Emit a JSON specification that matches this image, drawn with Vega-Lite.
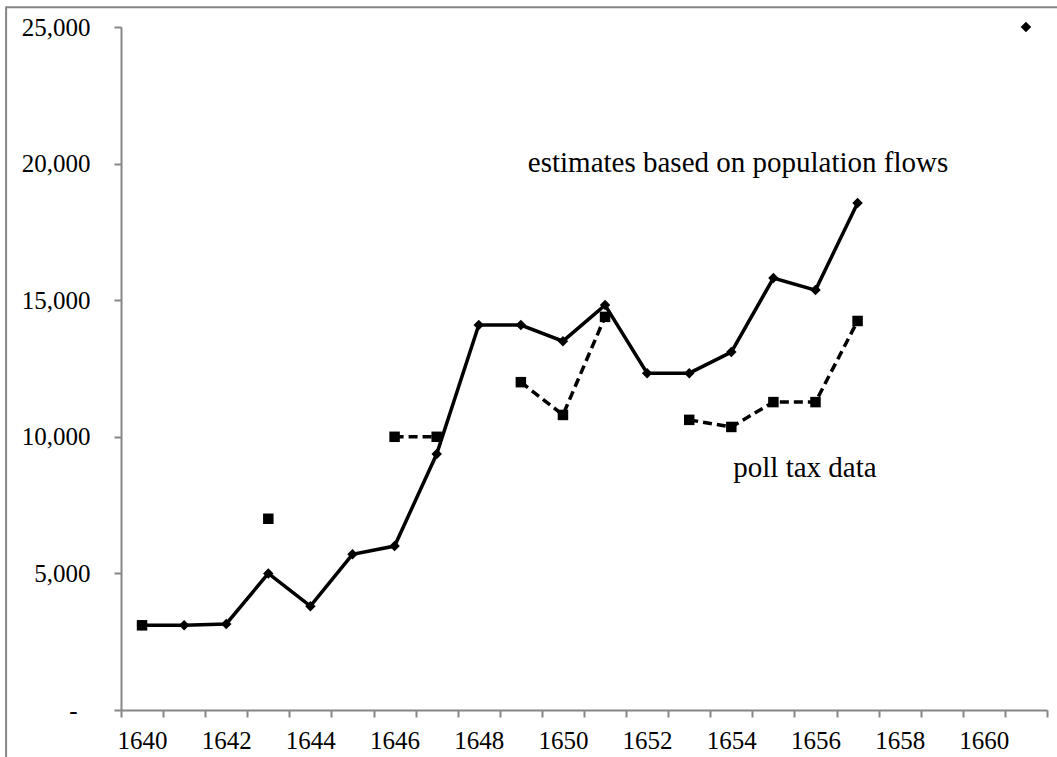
{
  "$schema": "https://vega.github.io/schema/vega-lite/v6.json",
  "width": 926,
  "height": 683,
  "autosize": {"type": "none"},
  "padding": {"left": 121, "top": 27, "right": 10, "bottom": 47},
  "background": "white",
  "config": {"view": {"stroke": null}},
  "datasets": {
    "main": [
      {"year": 1640, "value": 3100, "series": "flows", "seg": "f1"},
      {"year": 1641, "value": 3100, "series": "flows", "seg": "f1"},
      {"year": 1642, "value": 3150, "series": "flows", "seg": "f1"},
      {"year": 1643, "value": 5000, "series": "flows", "seg": "f1"},
      {"year": 1644, "value": 3800, "series": "flows", "seg": "f1"},
      {"year": 1645, "value": 5700, "series": "flows", "seg": "f1"},
      {"year": 1646, "value": 6000, "series": "flows", "seg": "f1"},
      {"year": 1647, "value": 9370, "series": "flows", "seg": "f1"},
      {"year": 1648, "value": 14090, "series": "flows", "seg": "f1"},
      {"year": 1649, "value": 14090, "series": "flows", "seg": "f1"},
      {"year": 1650, "value": 13500, "series": "flows", "seg": "f1"},
      {"year": 1651, "value": 14820, "series": "flows", "seg": "f1"},
      {"year": 1652, "value": 12330, "series": "flows", "seg": "f1"},
      {"year": 1653, "value": 12330, "series": "flows", "seg": "f1"},
      {"year": 1654, "value": 13100, "series": "flows", "seg": "f1"},
      {"year": 1655, "value": 15810, "series": "flows", "seg": "f1"},
      {"year": 1656, "value": 15370, "series": "flows", "seg": "f1"},
      {"year": 1657, "value": 18560, "series": "flows", "seg": "f1"},
      {"year": 1661, "value": 25000, "series": "flows", "seg": "f2"},
      {"year": 1640, "value": 3100, "series": "poll", "seg": "p1"},
      {"year": 1643, "value": 7000, "series": "poll", "seg": "p2"},
      {"year": 1646, "value": 10000, "series": "poll", "seg": "p3"},
      {"year": 1647, "value": 10000, "series": "poll", "seg": "p3"},
      {"year": 1649, "value": 12000, "series": "poll", "seg": "p4"},
      {"year": 1650, "value": 10800, "series": "poll", "seg": "p4"},
      {"year": 1651, "value": 14390, "series": "poll", "seg": "p4"},
      {"year": 1653, "value": 10620, "series": "poll", "seg": "p5"},
      {"year": 1654, "value": 10360, "series": "poll", "seg": "p5"},
      {"year": 1655, "value": 11270, "series": "poll", "seg": "p5"},
      {"year": 1656, "value": 11270, "series": "poll", "seg": "p5"},
      {"year": 1657, "value": 14240, "series": "poll", "seg": "p5"}
    ],
    "notes": [
      {"year": 1654.16, "value": 19692, "label": "estimates based on population flows"},
      {"year": 1655.75, "value": 8528, "label": "poll tax data"}
    ],
    "frameTop": [{"x1": 1636.77, "x2": 1663, "y1": 25720}],
    "frameLeft": [{"x1": 1636.77, "y1": 25750, "y2": -3000}]
  },
  "layer": [
    {
      "data": {"name": "main"},
      "transform": [{"filter": "datum.series == 'flows'"}],
      "mark": {"type": "line", "color": "black", "strokeWidth": 3.5},
      "encoding": {
        "x": {
          "field": "year", "type": "quantitative",
          "scale": {"domain": [1639.5, 1661.5], "nice": false, "zero": false},
          "axis": {
            "title": null, "grid": false,
            "values": [1639.5,1640.5,1641.5,1642.5,1643.5,1644.5,1645.5,1646.5,1647.5,1648.5,1649.5,1650.5,1651.5,1652.5,1653.5,1654.5,1655.5,1656.5,1657.5,1658.5,1659.5,1660.5,1661.5],
            "labelExpr": "datum.value < 1661 && (datum.value + 0.5) % 2 == 0 ? format(datum.value + 0.5, 'd') : ''",
            "labelOffset": 21,
            "labelOverlap": false,
            "labelFlush": false,
            "labelFont": "Liberation Serif", "labelFontSize": 25, "labelColor": "black",
            "labelPadding": 11,
            "tickSize": 7, "tickColor": "#868686", "tickWidth": 2,
            "domainColor": "#868686", "domainWidth": 2
          }
        },
        "y": {
          "field": "value", "type": "quantitative",
          "scale": {"domain": [0, 25000], "nice": false, "zero": true},
          "axis": {
            "title": null, "grid": false,
            "values": [0, 5000, 10000, 15000, 20000, 25000],
            "format": ",.0f",
            "labelExpr": "datum.value == 0 ? '-' : datum.label",
            "labelFont": "Liberation Serif", "labelFontSize": 25, "labelColor": "black",
            "labelPadding": {"condition": {"test": "datum.value == 0", "value": 37}, "value": 24},
            "labelOverlap": false, "labelFlush": false,
            "tickSize": 7, "tickColor": "#868686", "tickWidth": 2,
            "domainColor": "#868686", "domainWidth": 2
          }
        },
        "detail": {"field": "seg"}
      }
    },
    {
      "data": {"name": "main"},
      "transform": [{"filter": "datum.series == 'poll'"}],
      "mark": {"type": "line", "color": "black", "strokeWidth": 3.5, "strokeDash": [9, 5]},
      "encoding": {
        "x": {"field": "year", "type": "quantitative"},
        "y": {"field": "value", "type": "quantitative"},
        "detail": {"field": "seg"}
      }
    },
    {
      "data": {"name": "main"},
      "transform": [{"filter": "datum.series == 'flows'"}],
      "mark": {"type": "point", "shape": "diamond", "filled": true, "color": "black", "size": 110, "opacity": 1},
      "encoding": {
        "x": {"field": "year", "type": "quantitative"},
        "y": {"field": "value", "type": "quantitative"}
      }
    },
    {
      "data": {"name": "main"},
      "transform": [{"filter": "datum.series == 'poll'"}],
      "mark": {"type": "point", "shape": "square", "filled": true, "color": "black", "size": 110, "opacity": 1},
      "encoding": {
        "x": {"field": "year", "type": "quantitative"},
        "y": {"field": "value", "type": "quantitative"}
      }
    },
    {
      "data": {"name": "notes"},
      "mark": {"type": "text", "font": "Liberation Serif", "fontSize": 29, "color": "black", "align": "center", "baseline": "alphabetic"},
      "encoding": {
        "x": {"field": "year", "type": "quantitative"},
        "y": {"field": "value", "type": "quantitative"},
        "text": {"field": "label"}
      }
    },
    {
      "data": {"name": "frameTop"},
      "mark": {"type": "rule", "stroke": "#868686", "strokeWidth": 2, "clip": false},
      "encoding": {
        "x": {"field": "x1", "type": "quantitative"},
        "x2": {"field": "x2"},
        "y": {"field": "y1", "type": "quantitative"}
      }
    },
    {
      "data": {"name": "frameLeft"},
      "mark": {"type": "rule", "stroke": "#868686", "strokeWidth": 2, "clip": false},
      "encoding": {
        "x": {"field": "x1", "type": "quantitative"},
        "y": {"field": "y1", "type": "quantitative"},
        "y2": {"field": "y2"}
      }
    }
  ]
}
